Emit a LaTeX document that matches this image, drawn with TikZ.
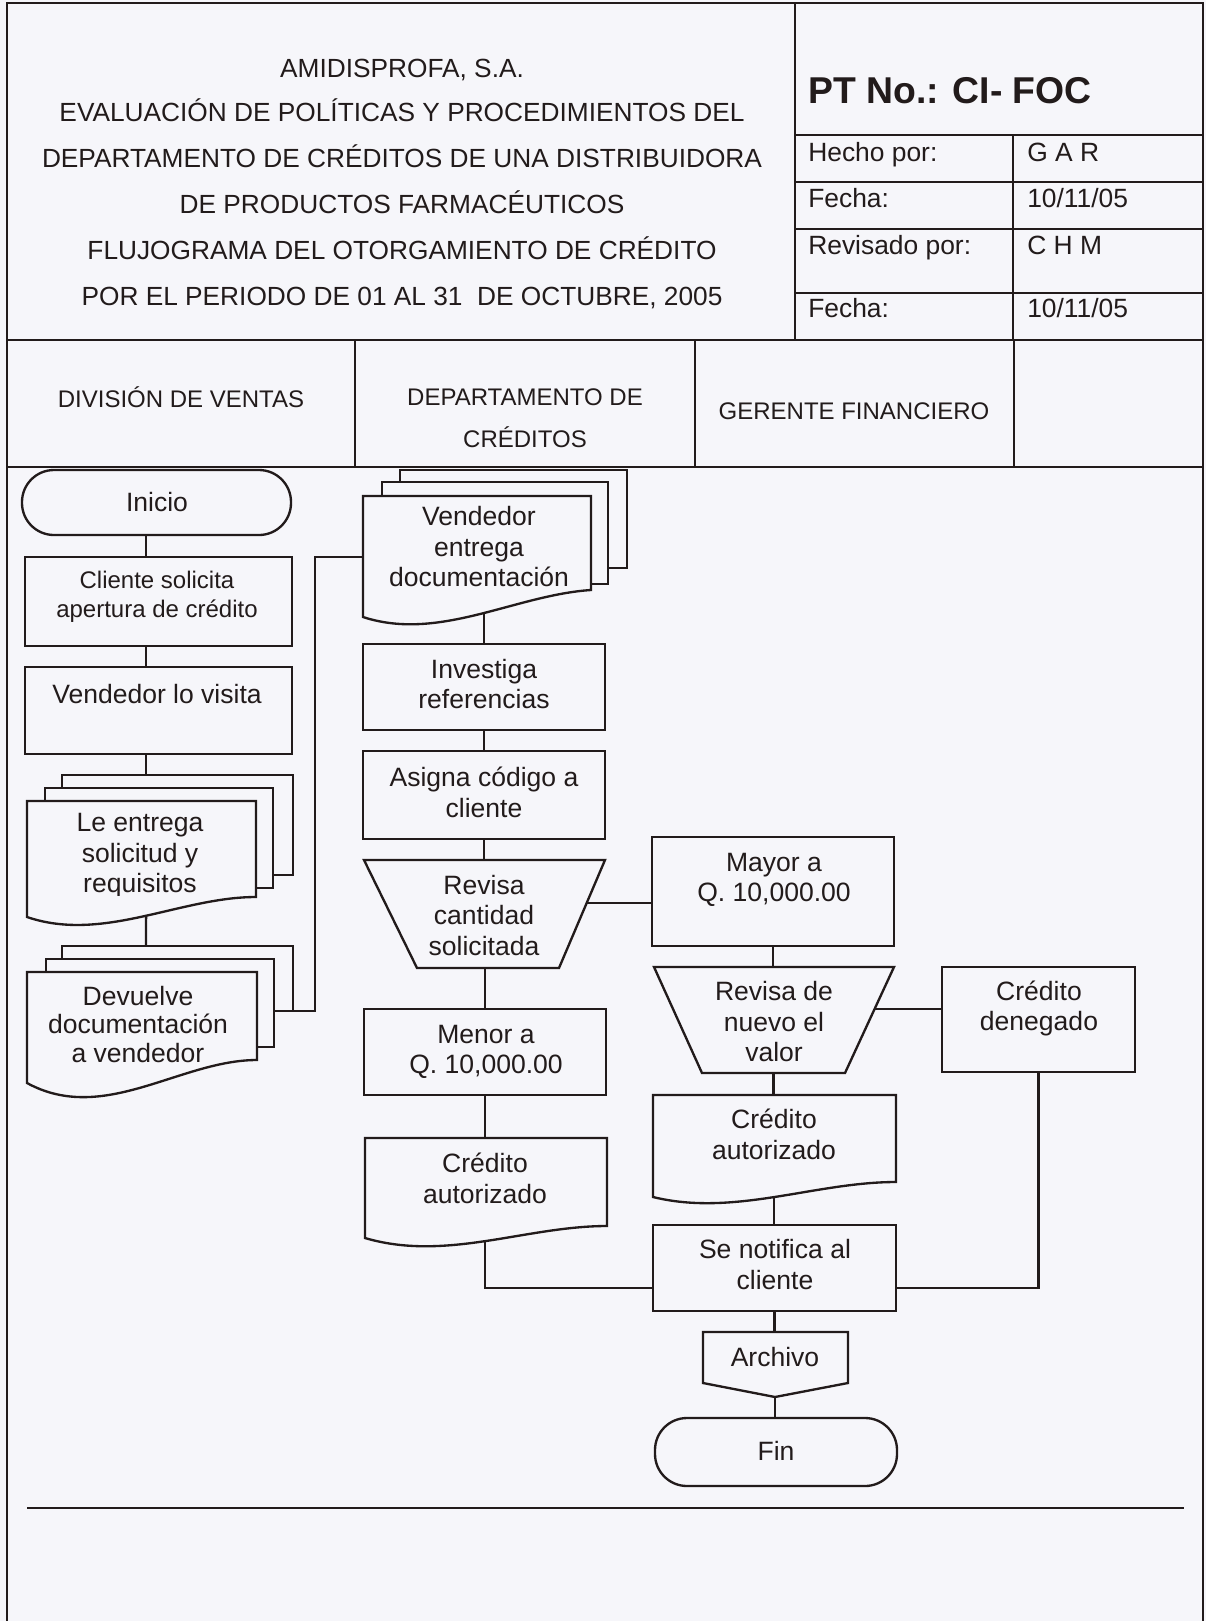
\documentclass[tikz,border=0pt]{standalone}
\usepackage{fontspec}
\setmainfont{Liberation Sans}
\usetikzlibrary{fit,calc}
\definecolor{ink}{RGB}{34,27,27}
\definecolor{paper}{RGB}{246,246,250}
\newcommand\lnbr{\\\strut}
\begin{document}
\begin{tikzpicture}[x=0.75pt,y=-0.75pt,
  hd/.style={line width=1.1pt, draw=ink},
  fl/.style={line width=1.75pt, draw=ink},
  shp/.style={fl, fill=paper, inner sep=0pt, outer sep=0pt},
  term/.style={shp, rounded corners=24pt},
  tx/.style={text=ink, align=center, inner sep=0pt, font=\fontsize{19.9}{22.9}\selectfont, execute at begin node=\strut},
  txs/.style={tx, font=\fontsize{18}{21.75}\selectfont},
  ht/.style={text=ink, inner sep=0pt, anchor=base, font=\fontsize{19.7}{24}\selectfont},
  tt/.style={text=ink, inner sep=0pt, anchor=base west, font=\fontsize{19.8}{24}\selectfont},
  lh/.style={text=ink, inner sep=0pt, anchor=base, font=\fontsize{18}{22}\selectfont}]
\useasboundingbox (0,0) rectangle (1206,1621);
\fill[paper] (0,0) rectangle (1206,1621);

% ---------- frame and header ----------
\draw[hd] (7,1621) -- (7,3) -- (1203,3) -- (1203,1621);
\draw[hd] (7,340) -- (1203,340);
\draw[hd] (795,3) -- (795,340);
\draw[hd] (795,135) -- (1203,135);
\draw[hd] (795,182) -- (1203,182);
\draw[hd] (795,229) -- (1203,229);
\draw[hd] (795,293) -- (1203,293);
\draw[hd] (1013,135) -- (1013,340);
\draw[hd] (7,467) -- (1203,467);
\draw[hd] (355,340) -- (355,467);
\draw[hd] (695,340) -- (695,467);
\draw[hd] (1014,340) -- (1014,467);

\node[ht] (t1) at (402,77) {AMIDISPROFA, S.A.};
\node[ht] (t2) at (402,121) {EVALUACIÓN DE POLÍTICAS Y PROCEDIMIENTOS DEL};
\node[ht] (t3) at (402,167) {DEPARTAMENTO DE CRÉDITOS DE UNA DISTRIBUIDORA};
\node[ht] (t4) at (402,213) {DE PRODUCTOS FARMACÉUTICOS};
\node[ht] (t5) at (402,259) {FLUJOGRAMA DEL OTORGAMIENTO DE CRÉDITO};
\node[ht] (t6) at (402,305) {POR EL PERIODO DE 01 AL 31\ \ DE OCTUBRE, 2005};

\node[tt, font=\fontsize{28}{30}\selectfont\bfseries] (pt) at (808,103) {PT No.: CI- FOC};
\node[tt] (h1) at (808,161) {Hecho por:};
\node[tt] (h2) at (808,207) {Fecha:};
\node[tt] (h3) at (808,254) {Revisado por:};
\node[tt] (h4) at (808,317) {Fecha:};
\node[tt] (v1) at (1027,161) {G A R};
\node[tt] (v2) at (1027,207) {10/11/05};
\node[tt] (v3) at (1027,254) {C H M};
\node[tt] (v4) at (1027,317) {10/11/05};

\node[lh] (lh1) at (181,407) {DIVISIÓN DE VENTAS};
\node[lh] (lh2a) at (525,405) {DEPARTAMENTO DE};
\node[lh] (lh2b) at (525,447) {CRÉDITOS};
\node[lh] (lh3) at (854,419) {GERENTE FINANCIERO};

% ---------- left lane ----------
\node[term, fit={(22,470) (291,535)}] (ini) {};
\node[tx] (ini-t) at (157,505) {Inicio};
\node[shp, fit={(25,557) (292,646)}] (cs) {};
\node[txs] (cs-t) at (157,598.5) {Cliente solicita\lnbr apertura de crédito};
\node[shp, fit={(25,667) (292,754)}] (vv) {};
\node[tx] (vv-t) at (157,697) {Vendedor lo visita};

% Le entrega (multi-document)
\draw[fl, fill=paper] (62,775) rectangle (293,875);
\draw[fl, fill=paper] (45,788) rectangle (273,888);
\draw[fl, fill=paper] (27,801) -- (256,801) -- (256,897)
   .. controls (180,897) and (103,943) .. (27,917) coordinate[pos=0.48] (le-bot) -- cycle;
\coordinate (le-top) at (146,775);
\begin{scope}
\clip (20,780) rectangle (300,895);
\node[tx] (le-t) at (140,857.5) {Le entrega\lnbr solicitud y\lnbr requisitos};
\end{scope}

% Devuelve (multi-document)
\draw[fl, fill=paper] (62,946) rectangle (293,1011);
\draw[fl, fill=paper] (46,959) rectangle (274,1047);
\draw[fl, fill=paper] (27,972) -- (257,972) -- (257,1060)
   .. controls (180,1060) and (104,1125) .. (27,1083) -- cycle;
\coordinate (dv-top) at (146,946);
\coordinate (dv-out) at (293,1011);
\node[tx, font=\fontsize{19.9}{21.4}\selectfont] (dv-t) at (138,1028.5) {Devuelve\lnbr documentación\lnbr a vendedor};

\coordinate (lx) at (146,0);
\draw[fl] (ini.south -| lx) -- (cs.north -| lx);
\draw[fl] (cs.south -| lx) -- (vv.north -| lx);
\draw[fl] (vv.south -| lx) -- (le-top);
\draw[fl] (le-bot) -- (dv-top);

% ---------- middle lane ----------
\draw[fl, fill=paper] (400,470) rectangle (627,568);
\draw[fl, fill=paper] (382,482) rectangle (608,584);
\draw[fl, fill=paper] (363,496) -- (591,496) -- (591,590)
   .. controls (515,595) and (439,642) .. (363,617) coordinate[pos=0.469] (ve-bot) -- cycle;
\coordinate (ve-in) at (363,557);
\node[tx] (ve-t) at (479,551) {Vendedor\lnbr entrega\lnbr documentación};
\draw[fl] (dv-out) -- ++(22,0) |- (ve-in);

\node[shp, fit={(363,644) (605,730)}] (inv) {};
\node[tx] (inv-t) at (484,688.5) {Investiga\lnbr referencias};
\node[shp, fit={(363,751) (605,839)}] (asg) {};
\node[tx] (asg-t) at (484,797) {Asigna código a\lnbr cliente};

\draw[fl, fill=paper] (364,860) coordinate (rv-tl) -- (605,860) coordinate (rv-tr)
   -- (559,968) coordinate (rv-br) -- (417,968) coordinate (rv-bl) -- cycle;
\coordinate (rv-top) at (484,860);
\coordinate (rv-bot) at (485,968);
\coordinate (rv-r) at ($(rv-tr)!0.398!(rv-br)$);
\node[tx] (rv-t) at (484,919.5) {Revisa\lnbr cantidad\lnbr solicitada};

\node[shp, fit={(364,1009) (606,1095)}] (mn) {};
\node[tx] (mn-t) at (486,1054) {Menor a\lnbr Q. 10,000.00};

\draw[fl, fill=paper] (365,1138) -- (607,1138) -- (607,1226)
   .. controls (526,1226) and (446,1262) .. (365,1238) coordinate[pos=0.504] (cl-bot) -- cycle;
\coordinate (cl-top) at (485,1138);
\node[tx] (cl-t) at (485,1183) {Crédito\lnbr autorizado};

\draw[fl] (ve-bot) -- (ve-bot |- inv.north);
\draw[fl] (inv.south) -- (asg.north);
\draw[fl] (asg.south) -- (rv-top);
\draw[fl] (rv-bot) -- (rv-bot |- mn.north);
\draw[fl] (mn.south -| cl-top) -- (cl-top);

% ---------- right lane ----------
\node[shp, fit={(652,837) (894,946)}] (my) {};
\node[tx] (my-t) at (774,882) {Mayor a\lnbr Q. 10,000.00};

\draw[fl, fill=paper] (654,967) coordinate (rn-tl) -- (894,967) coordinate (rn-tr)
   -- (845,1073) coordinate (rn-br) -- (702,1073) coordinate (rn-bl) -- cycle;
\coordinate (rn-bot) at ($(rn-bl)!0.5!(rn-br)$);
\coordinate (rn-r) at ($(rn-tr)!0.396!(rn-br)$);
\node[tx] (rn-t) at (774,1026) {Revisa de\lnbr nuevo el\lnbr valor};

\node[shp, fit={(942,967) (1135,1072)}] (cd) {};
\node[tx] (cd-t) at (1039,1010.5) {Crédito\lnbr denegado};

\draw[fl, fill=paper] (653,1095) coordinate (cr-tl) -- (896,1095) -- (896,1182)
   .. controls (815,1182) and (734,1217) .. (653,1197) coordinate[pos=0.502] (cr-bot) -- cycle;
\node[tx] (cr-t) at (774,1139) {Crédito\lnbr autorizado};

\node[shp, fit={(653,1225) (896,1311)}] (sn) {};
\node[tx] (sn-t) at (775,1269) {Se notifica al\lnbr cliente};

\draw[fl, fill=paper] (703,1332) -- (848,1332) -- (848,1383) -- (775,1397) coordinate (ar-bot)
   -- (703,1383) -- cycle;
\coordinate (ar-top) at (775,1332);
\node[tx] (ar-t) at (775,1360) {Archivo};

\node[term, fit={(655,1418) (897,1486)}] (fin) {};
\node[tx] (fin-t) at (776,1454) {Fin};

\coordinate (jy) at (0,1288);
\draw[fl] (rv-r) -- (rv-r -| my.west);
\draw[fl] (my.south) -- (my.south |- rn-tl);
\draw[fl] (rn-r) -- (rn-r -| cd.west);
\draw[fl] (rn-bot) -- (rn-bot |- cr-tl);
\draw[fl] (cr-bot) -- (cr-bot |- sn.north);
\draw[fl] (cd.south) |- (sn.east |- jy);
\draw[fl] (cl-bot) |- (sn.west |- jy);
\draw[fl] (sn.south) -- (sn.south |- ar-top);
\draw[fl] (ar-bot) -- (ar-bot |- fin.north);

% ---------- bottom rule ----------
\draw[line width=2pt, draw=ink] (27,1508) -- (1184,1508);
\end{tikzpicture}
\end{document}
